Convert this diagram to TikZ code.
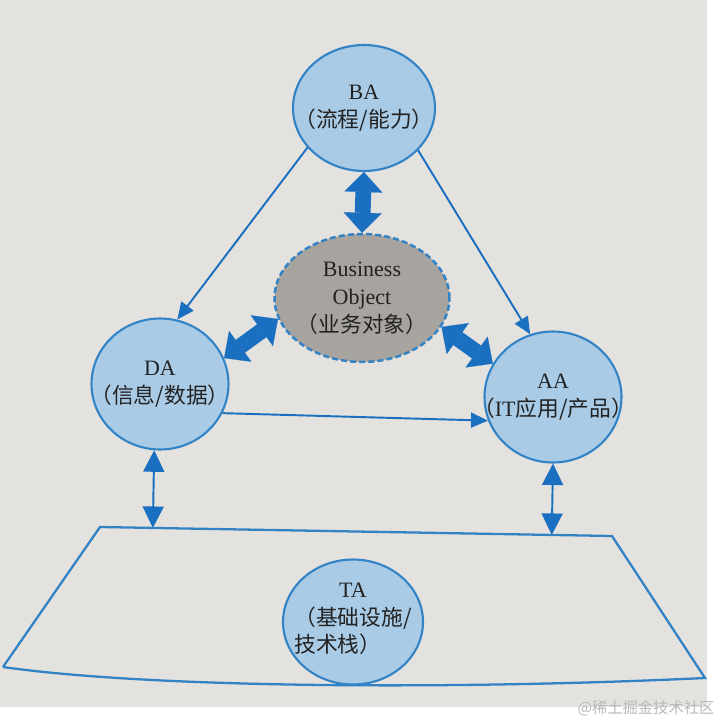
\documentclass[tikz,border=0pt]{standalone}
\usepackage{fontspec}
\setmainfont{Liberation Serif}
\newfontfamily\cjk[Scale=0.99]{Noto Sans CJK SC}
\usepackage{xcolor}
\usepackage{tikz}
\usetikzlibrary{shapes.geometric,arrows.meta,calc}
\definecolor{paper}{HTML}{E4E2DE}
\definecolor{layerfill}{HTML}{A9CBE6}
\definecolor{layerline}{HTML}{3283C6}
\definecolor{arrowblue}{HTML}{1A6FC0}
\definecolor{objfill}{HTML}{A7A39E}
\definecolor{inktext}{HTML}{222222}

\begin{document}
\begin{tikzpicture}[x=0.02cm, y=-0.02cm,
    layer/.style={ellipse, draw=layerline, line width=1.2pt, fill=layerfill, text=inktext, align=center, inner sep=-0.8cm, minimum width=2.74cm, minimum height=2.62cm, font=\fontsize{12.5}{15.6}\selectfont},
    objnode/.style={ellipse, draw=layerline, line width=1.4pt, dash pattern=on 3.4pt off 1.8pt, fill=objfill, text=inktext, align=center, inner sep=-0.8cm, minimum width=3.5cm, minimum height=2.56cm, font=\fontsize{12.5}{16}\selectfont},
    flow/.style={draw=arrowblue, line width=1.1pt, -{Triangle[length=0.34cm,width=0.3cm]}},
    link/.style={draw=arrowblue, line width=1.1pt, {Triangle[length=0.43cm,width=0.42cm]}-{Triangle[length=0.43cm,width=0.42cm]}},
    bigarrow/.style={draw=arrowblue, line width=9pt, {Triangle[length=0.4cm,width=0.76cm,line width=0.1pt]}-{Triangle[length=0.4cm,width=0.76cm,line width=0.1pt]}}
  ]
  \useasboundingbox (0,0) rectangle (720,720);
  \fill[white] (0,0) rectangle (720,720);
  \fill[paper] (0,0) rectangle (707,707);

  \coordinate (tl) at (100,527);
  \coordinate (tr) at (612,536);
  \coordinate (br) at (705,678);
  \coordinate (bl) at (3,667);
  \draw[layerline, line width=1.3pt, line join=miter] (bl) -- (tl) -- (tr) -- (br) .. controls (450,690) and (150,688) .. (bl);

  \node[layer, minimum width=2.84cm, minimum height=2.52cm] (BA) at (364,108) {BA\\{\cjk （流程/能力）}};
  \node[layer] (DA) at (160,384) {DA\\{\cjk （信息/数据）}};
  \node[layer] (AA) at (553,397) {AA\\{\cjk （}IT{\cjk 应用/产品）}};
  \node[objnode] (BO) at (362,298) {Business\\Object\\{\cjk （业务对象）}};
  \node[layer, minimum width=2.8cm, minimum height=2.5cm] (TA) at (353,622) {TA\\{\cjk\begin{tabular}[t]{@{}l@{}}（基础设施/\\技术栈）\end{tabular}}};

  \draw[flow] (BA.215) -- (DA.75);
  \draw[flow] (BA.322) -- (AA.110);
  \draw[flow] (DA.335) -- (AA.200);
  \draw[bigarrow] (BA.south) -- (BO.north);
  \draw[bigarrow] (DA.22) -- (BO.194);
  \draw[bigarrow] (BO.340) -- (AA.151);
  \draw[link] (DA.265) -- ($(tl)!(DA.265)!(tr)$);
  \draw[link] (AA.south) -- ($(tl)!(AA.south)!(tr)$);

  \node[font=\cjk\fontsize{8.8}{9}\selectfont, text=gray!55] (mark) at (646,708) {@稀土掘金技术社区};
\end{tikzpicture}
\end{document}
